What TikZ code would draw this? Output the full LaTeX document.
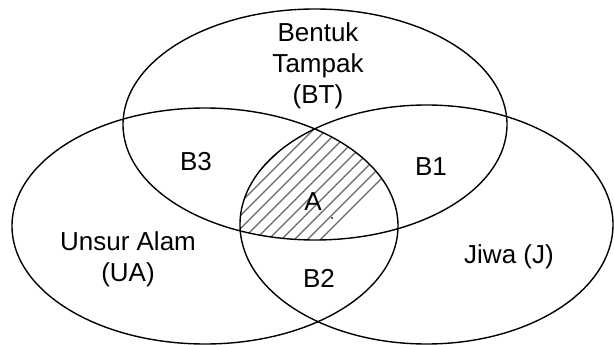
\documentclass[tikz,border=0pt]{standalone}
\usepackage{fontspec}
\setmainfont{Liberation Sans}

\tikzset{
  setline/.style={line width=1.4pt, black},
  hatchline/.style={line width=1.2pt, black!60},
  setlabel/.style={inner sep=0pt, align=center, font=\fontsize{26}{31}\selectfont}
}

\begin{document}
\begin{tikzpicture}[x=1pt, y=-1pt]
\useasboundingbox (0,0) rectangle (614,345);
%Hatch
\begin{scope}
\clip (315,124.5) ellipse (192 and 115.5);
\clip (205,226) ellipse (193 and 118);
\clip (426.5,224.5) ellipse (186.5 and 119.5);
\foreach \i in {0,13,...,260}
  \draw [hatchline] (\i,300) -- ++(200,-200);
\end{scope}
%Sets
\draw [setline] (315,124.5) ellipse (192 and 115.5);
\draw [setline] (205,226) ellipse (193 and 118);
\draw [setline] (426.5,224.5) ellipse (186.5 and 119.5);
%Text
\node [setlabel] (bt) at (318,66) {Bentuk\\Tampak\\(BT)};
\node [setlabel] (ua) at (128,259) {Unsur Alam\\(UA)};
\node [setlabel] (j) at (509,257) {Jiwa (J)};
\node [setlabel] (b3) at (196,162) {B3};
\node [setlabel] (b1) at (431,167) {B1};
\node [setlabel] (b2) at (319,278) {B2};
\node [setlabel] (a) at (313,202) {A};
\fill (332,218) circle (1pt);
\end{tikzpicture}
\end{document}
